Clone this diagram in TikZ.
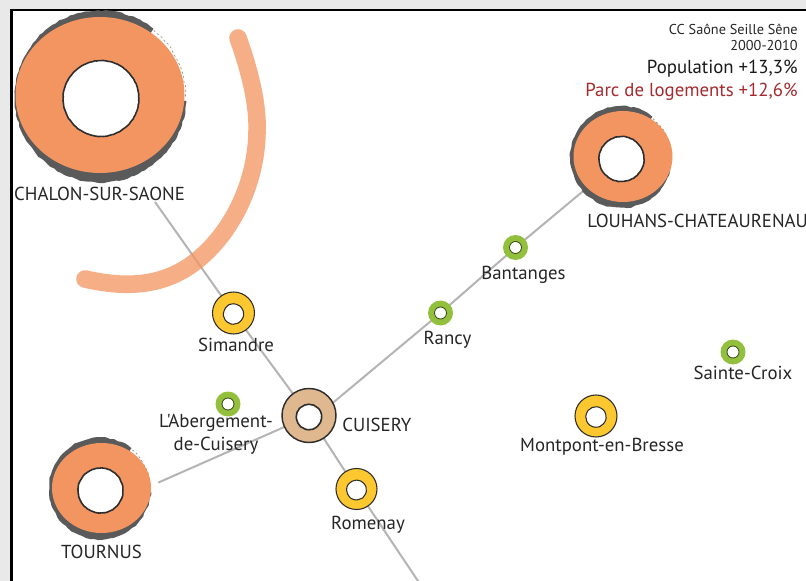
\documentclass[tikz,border=0pt]{standalone}
\usepackage{fontspec}
\setmainfont{PT Sans}[Ligatures=TeXOff]
\usetikzlibrary{decorations.pathmorphing}
\pgfdeclarelayer{bgl}
\pgfdeclarelayer{lnl}
\pgfsetlayers{bgl,lnl,main}
\definecolor{pageg}{HTML}{E9E9E9}
\definecolor{orng}{HTML}{F39561}
\definecolor{arcc}{HTML}{F39561}
\definecolor{rimg}{HTML}{5A5A5A}
\definecolor{rimd}{HTML}{2E2E2E}
\definecolor{yell}{HTML}{FDC82F}
\definecolor{gren}{HTML}{93C03C}
\definecolor{sand}{HTML}{DFB88F}
\definecolor{roadg}{HTML}{B4B4B4}
\definecolor{redt}{HTML}{A62A2E}
\tikzset{
  x=0.75pt,y=0.75pt,
  rough/.style={decorate,decoration={random steps,segment length=3pt,amplitude=0.5pt}},
  anchorring/.style={circle,inner sep=0pt,outer sep=0pt,minimum size=#1*1.5pt},
  hole/.style={fill=white,draw=rimd,line width=1.2pt,decorate,decoration={random steps,segment length=1.6pt,amplitude=0.18pt}},
  road/.style={draw=roadg,line width=1.5pt},
  placelabel/.style={inner sep=0pt,font=\fontsize{14.1pt}{17.3pt}\selectfont,text=black!85,align=center},
  headtext/.style={inner sep=0pt,anchor=east,font=\fontsize{10.7pt}{12pt}\selectfont,text=black!85},
  bigtext/.style={inner sep=0pt,anchor=east,font=\fontsize{14.1pt}{17pt}\selectfont},
}
\newcommand{\bigring}[7]{%
  \node[anchorring=#3] (#7) at (#1,#2) {};
  \fill[rimg,rough] ([shift={(52:#3)}]#1,#2) arc[start angle=52,end angle=357,radius=#3] -- (#1,#2) -- cycle;
  \draw[rimg!70,line width=0.5pt,dash pattern=on 1.5pt off 2pt,rough] ([shift={(0:#3-1)}]#1,#2) arc[start angle=0,end angle=52,radius=#3-1];
  \fill[orng] (#1+#4,#2+#5) ellipse[x radius=#3-1.5,y radius=#3-#6];
  \fill[hole] (#1+0.5,#2-2) circle[radius=#3*0.44];
}
\newcommand{\smallring}[5]{% x y r colour name
  \node[circle,inner sep=0pt,outer sep=0pt,minimum size=#3*1.5pt,fill=#4,draw=rimd,line width=0.8pt] (#5) at (#1,#2) {};
  \fill[hole,line width=0.8pt] (#1,#2-1) circle[radius=#3*0.47];
}
\newcommand{\greenring}[3]{% x y name
  \node[circle,inner sep=0pt,outer sep=0pt,minimum size=25*0.75pt,fill=gren] (#3) at (#1,#2) {};
  \fill[white,draw=black!65!gren,line width=0.6pt] (#1,#2) circle[radius=6];
}
\begin{document}
\begin{tikzpicture}
\useasboundingbox (0,0) rectangle (806,-581);
\begin{pgfonlayer}{bgl}
  \fill[pageg] (0,0) rectangle (806,-581);
  \fill[white] (11.5,-10) rectangle (806,-581);
  \draw[black,line width=2pt] (11.5,-581) -- (11.5,-10) -- (806,-10);
\end{pgfonlayer}

\bigring{100.5}{-96.5}{86}{-0.5}{1.5}{8}{chalon}
\bigring{621}{-157}{51}{2}{0.5}{5.5}{louhans}
\bigring{100}{-488.5}{51}{1.5}{0.5}{6}{tournus}

\node[circle,inner sep=0pt,outer sep=0pt,minimum size=54*0.75pt,fill=sand,draw=rimd,line width=1.1pt] (cuisery) at (309,-415.5) {};
\fill[hole] (309,-417) circle[radius=12.5];

\smallring{233.5}{-313}{21}{yell}{simandre}
\smallring{356.5}{-489}{20.5}{yell}{romenay}
\smallring{596}{-416}{21}{yell}{montpont}
\greenring{228}{-404}{abergement}
\greenring{440.5}{-313}{rancy}
\greenring{515.5}{-247.5}{bantanges}
\greenring{733}{-352}{saintecroix}

\node[placelabel] (lchalon) at (99.5,-193.5) {CHALON-SUR-SAONE};
\node[placelabel,anchor=west] (llouhans) at (587,-221) {LOUHANS-CHATEAURENAULT};
\node[placelabel] (ltournus) at (101.5,-551.5) {TOURNUS};
\node[placelabel,anchor=west] (lcuisery) at (342,-425) {CUISERY};
\node[placelabel] (lsimandre) at (236,-345) {Simandre};
\node[placelabel] (lromenay) at (368,-524.5) {Romenay};
\node[placelabel] (lmontpont) at (602,-446.5) {Montpont-en-Bresse};
\node[placelabel] (lrancy) at (447.5,-339.5) {Rancy};
\node[placelabel] (lbantanges) at (523.5,-274.5) {Bantanges};
\node[placelabel] (lsainte) at (743,-373) {Sainte-Croix};
\node[placelabel] (labergement) at (216,-434) {L'Abergement-\\de-Cuisery};

\node[headtext] (thead) at (798,-29) {CC Saône Seille Sêne};
\node[headtext] (tyear) at (798,-46) {2000-2010};
\node[bigtext,text=black!90] (tpop) at (798,-68.5) {Population +13,3\%};
\node[bigtext,text=redt] (tparc) at (798,-91.5) {Parc de logements +12,6\%};

\coordinate (chalonfoot) at (155,-202);
\coordinate (sudend) at (420,-584);
\begin{pgfonlayer}{lnl}
  \draw[road] (chalonfoot) -- (simandre.center) -- (cuisery.center) -- (romenay.center) -- (sudend);
  \draw[road] (cuisery.28) -- (rancy.center) -- (bantanges.center) -- (louhans.222);
  \draw[road,shorten <=6pt] (tournus.3) -- (cuisery.205);
  \draw[line width=13.2pt,line cap=round,draw=arcc,draw opacity=0.76]
    (238,-38) .. controls (253,-80) and (258,-110) .. (257,-133)
    .. controls (256,-180) and (235,-228) .. (200,-258)
    .. controls (165,-288) and (125,-288) .. (85,-279);
\end{pgfonlayer}
\end{tikzpicture}
\end{document}
